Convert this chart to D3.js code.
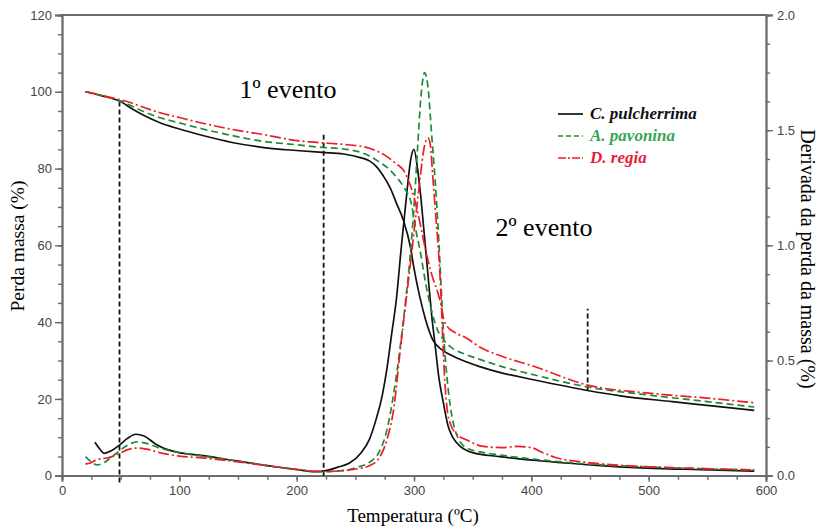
<!DOCTYPE html>
<html><head><meta charset="utf-8">
<script src="https://cdn.jsdelivr.net/npm/d3@7"></script>
<style>body{margin:0;background:#fff}svg{display:block}</style>
</head><body><svg id="c" width="821" height="526"></svg>
<script>
// ---- data: [temperature °C, value] ----
const seriesNames = ["C. pulcherrima", "A. pavonina", "D. regia"];

// TG (mass, %)
const tgPulcherrima = [[20,100],[30,99.3],[40,98.5],[49,97.6],[60,95.5],[70,93.8],[83,92],[100,90.3],[120,88.6],[145,86.8],[169,85.6],[200,84.7],[222,84.2],[240,83.8],[255,82.8],[262,82],[268,80.5],[274,78],[280,74.8],[285,71],[291,66.5],[297,59.5],[300,54],[305,46.5],[310,40.5],[316,35.4],[322,33.2],[331,31.5],[345,29.6],[356,28.4],[373,26.9],[402,25],[448,22.2],[476,20.8],[520,19.3],[560,18],[590,17]];
const tgPavonina = [[20,100],[30,99.3],[40,98.5],[49,97.7],[60,96.2],[70,94.8],[83,93.3],[100,91.9],[120,90.3],[145,88.6],[169,87.2],[200,86.2],[222,85.5],[240,85.1],[255,84.2],[262,83.3],[270,81.8],[279,79.8],[285,77.8],[291,75.3],[298,70.5],[302,63.3],[305,59],[310,50],[315,43],[320,38],[325,35.5],[331,33.6],[345,31.5],[356,30.3],[373,28.6],[402,26.3],[448,23.1],[500,21],[550,19.3],[590,17.9]];
const tgRegia = [[20,100],[30,99.4],[40,98.6],[49,98],[60,97],[70,95.9],[83,94.6],[100,93.3],[120,91.8],[145,90.2],[169,89],[200,87.3],[222,86.7],[240,86.3],[255,85.8],[262,85.3],[275,83.5],[285,81.2],[291,79.6],[297,75.5],[300,72.5],[305,66],[308,61.5],[312,56],[316,51.5],[320,48],[323,44.5],[325,41],[328,39],[335,37.3],[345,35.8],[356,33.5],[373,31.3],[402,28.5],[448,23.6],[500,21.5],[550,20.2],[590,19]];

// DTG (derivative of mass loss)
const dtgPulcherrima = [[28,0.145],[32,0.117],[36,0.097],[42,0.108],[49,0.133],[56,0.163],[63,0.18],[70,0.172],[80,0.137],[90,0.113],[100,0.1],[120,0.087],[150,0.063],[180,0.04],[200,0.027],[215,0.018],[225,0.022],[235,0.037],[245,0.055],[255,0.1],[262,0.158],[268,0.25],[273,0.35],[277,0.467],[281,0.617],[285,0.767],[289,0.983],[294,1.233],[297,1.367],[300,1.417],[303,1.333],[306,1.2],[309,1.033],[312,0.867],[315,0.7],[318,0.567],[321,0.433],[325,0.317],[329,0.217],[333,0.167],[340,0.125],[350,0.1],[373,0.083],[402,0.067],[450,0.047],[476,0.038],[530,0.028],[590,0.02]];
const dtgPavonina = [[20,0.083],[25,0.06],[30,0.047],[36,0.057],[42,0.08],[49,0.108],[56,0.133],[64,0.147],[72,0.14],[85,0.117],[100,0.1],[120,0.085],[150,0.063],[180,0.04],[200,0.027],[222,0.017],[240,0.023],[252,0.037],[262,0.058],[270,0.1],[277,0.2],[283,0.367],[288,0.55],[293,0.767],[297,0.967],[300,1.167],[303,1.417],[306,1.65],[309,1.75],[312,1.683],[315,1.483],[318,1.283],[321,1.033],[323,0.833],[325,0.633],[328,0.433],[331,0.3],[336,0.183],[345,0.12],[360,0.1],[373,0.09],[402,0.072],[450,0.05],[500,0.038],[550,0.03],[590,0.025]];
const dtgRegia = [[20,0.05],[24,0.055],[30,0.07],[38,0.077],[44,0.085],[49,0.097],[56,0.113],[64,0.12],[72,0.115],[85,0.098],[100,0.085],[120,0.077],[150,0.06],[180,0.04],[200,0.027],[222,0.018],[240,0.022],[252,0.03],[262,0.043],[270,0.075],[277,0.158],[283,0.3],[288,0.533],[293,0.75],[298,0.967],[302,1.15],[305,1.283],[309,1.433],[312,1.467],[314,1.433],[316,1.3],[319,1.1],[321,0.967],[323,0.783],[324.5,0.6],[326,0.433],[328,0.3],[331,0.225],[336,0.183],[345,0.155],[359,0.127],[375,0.122],[388,0.127],[400,0.122],[410,0.1],[420,0.08],[447,0.058],[476,0.045],[520,0.035],[590,0.025]];

// event markers: [temperature, bottom %, top %]
const eventMarkers = [[49,-1.8,97.3],[223,0,89],[448,22.2,43.5]];
const eventLabels = [["1º evento",288,98],["2º evento",544,236]];

const xTicks = [0,100,200,300,400,500,600];
const yLeftTicks = [0,20,40,60,80,100,120];
const yRightTicks = [0,0.5,1.0,1.5,2.0];

const colors = ["#111111","#1f8a35","#ee1c25"];
const textColors = ["#111111","#35a552","#e4203a"];
const dashes = [null,"7,4","11,3,2,3"];

// ---- drawing ----
const svg = d3.select("#c");
const L = 62, R = 766, T = 15, B = 475.7;
const x = d3.scaleLinear().domain([0,600]).range([L,R]);
const yL = d3.scaleLinear().domain([0,120]).range([B,T]);
const yR = d3.scaleLinear().domain([0,2]).range([B,T]);
const axisColor = "#6a6a6a";

function styleAxis(g){
  g.select(".domain").attr("stroke",axisColor).attr("stroke-width",1.8);
  g.selectAll(".tick line").attr("stroke",axisColor).attr("stroke-width",1.4);
  g.selectAll(".tick text").attr("fill","#444").style("font-family","Liberation Sans, Arial, sans-serif").style("font-size","13px");
}

// frame top
svg.append("line").attr("x1",L).attr("x2",R).attr("y1",T).attr("y2",T).attr("stroke",axisColor).attr("stroke-width",1.8);

// minor ticks
svg.append("g").attr("transform",`translate(0,${B})`).call(d3.axisBottom(x).tickValues(d3.range(0,601,25)).tickSize(4).tickFormat("")).call(styleAxis);
svg.append("g").attr("transform",`translate(${L},0)`).call(d3.axisLeft(yL).tickValues(d3.range(0,121,5)).tickSize(4).tickFormat("")).call(styleAxis);
svg.append("g").attr("transform",`translate(${R},0)`).call(d3.axisRight(yR).tickValues(d3.range(0,2.001,0.125)).tickSize(4).tickFormat("")).call(styleAxis);

// major axes
svg.append("g").attr("transform",`translate(0,${B})`).call(d3.axisBottom(x).tickValues(xTicks).tickSize(6).tickPadding(4).tickFormat(d3.format("d"))).call(styleAxis);
svg.append("g").attr("transform",`translate(${L},0)`).call(d3.axisLeft(yL).tickValues(yLeftTicks).tickSize(7).tickPadding(3).tickFormat(d3.format("d"))).call(styleAxis);
svg.append("g").attr("transform",`translate(${R},0)`).call(d3.axisRight(yR).tickValues(yRightTicks).tickSize(7).tickPadding(4).tickFormat(d3.format(".1f"))).call(styleAxis);

// axis titles
const serif = "Liberation Serif, Times New Roman, serif";
svg.append("text").attr("x",413).attr("y",522).attr("text-anchor","middle").style("font-family",serif).style("font-size","19px").text("Temperatura (ºC)");
svg.append("text").attr("transform","translate(24,246) rotate(-90)").attr("text-anchor","middle").style("font-family",serif).style("font-size","19.5px").text("Perda massa (%)");
svg.append("text").attr("transform","translate(801,259) rotate(90)").attr("text-anchor","middle").style("font-family",serif).style("font-size","20px").text("Derivada da perda da massa (%)");

// event markers
eventMarkers.forEach(m=>{
  svg.append("line").attr("x1",x(m[0])).attr("x2",x(m[0])).attr("y1",yL(m[1])).attr("y2",yL(m[2]))
    .attr("stroke","#111").attr("stroke-width",1.8).attr("stroke-dasharray","5,3");
});

// curves
const lineL = d3.line().x(d=>x(d[0])).y(d=>yL(d[1])).curve(d3.curveMonotoneX);
const lineR = d3.line().x(d=>x(d[0])).y(d=>yR(d[1])).curve(d3.curveMonotoneX);
const tg = [tgPulcherrima,tgPavonina,tgRegia];
const dtg = [dtgPulcherrima,dtgPavonina,dtgRegia];
[0,1,2].forEach(i=>{
  svg.append("path").datum(tg[i]).attr("d",lineL).attr("fill","none").attr("stroke",colors[i]).attr("stroke-width",1.7).attr("stroke-dasharray",dashes[i]);
  svg.append("path").datum(dtg[i]).attr("d",lineR).attr("fill","none").attr("stroke",colors[i]).attr("stroke-width",1.7).attr("stroke-dasharray",dashes[i]);
});

// event labels
eventLabels.forEach(e=>{
  svg.append("text").attr("x",e[1]).attr("y",e[2]).attr("text-anchor","middle").style("font-family",serif).style("font-size","26px").text(e[0]);
});

// legend
seriesNames.forEach((n,i)=>{
  const yy = 114 + i*22;
  svg.append("line").attr("x1",558).attr("x2",583).attr("y1",yy).attr("y2",yy).attr("stroke",colors[i]).attr("stroke-width",1.7).attr("stroke-dasharray",dashes[i]? (i===1?"5,3":"8,2,2,2"):null);
  svg.append("text").attr("x",590).attr("y",yy+5).style("font-family",serif).style("font-size","17px").style("font-weight","bold").style("font-style","italic").attr("fill",textColors[i]).text(n);
});
</script></body></html>
